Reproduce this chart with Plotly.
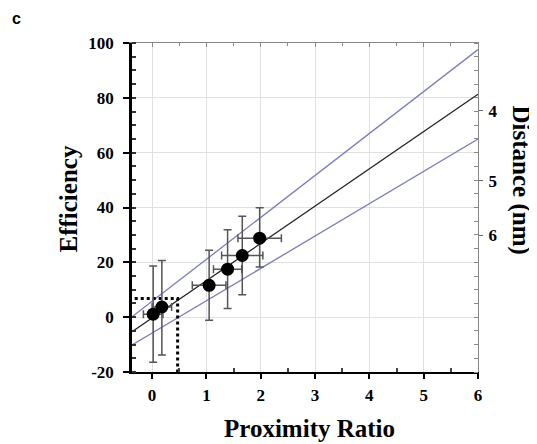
import plotly.graph_objects as go

# Data
proximity_ratio = [0.02, 0.18, 1.05, 1.39, 1.66, 1.98]
efficiency = [1.1, 3.7, 11.6, 17.5, 22.5, 28.8]
pr_err = [0.18, 0.18, 0.31, 0.26, 0.38, 0.40]
eff_err_plus = [17.6, 17.0, 12.8, 14.4, 14.3, 11.1]
eff_err_minus = [17.5, 17.5, 12.7, 14.3, 14.3, 10.5]

fit_slope, fit_intercept = 13.6, -0.3
upper_slope, upper_intercept = 15.3, 5.8
lower_slope, lower_intercept = 11.8, -5.8

x_range = [-0.37, 6.0]
y_range = [-20, 100]

cut_eff = 6.8
cut_pr = 0.47

distance_labels = ["4", "5", "6"]
distance_eff_pos = [75.3, 49.8, 29.8]

x_ticks = [0, 1, 2, 3, 4, 5, 6]
x_tick_labels = ["0", "1", "2", "3", "4", "5", "6"]
y_ticks = [-20, 0, 20, 40, 60, 80, 100]
y_tick_labels = ["-20", "0", "20", "40", "60", "80", "100"]

serif = "Liberation Serif, Times New Roman, serif"
blue = "#7b7bbd"

fig = go.Figure()

line_x = [x_range[0], x_range[1]]
for s, b, c, w in [(upper_slope, upper_intercept, blue, 1.3),
                   (lower_slope, lower_intercept, blue, 1.3),
                   (fit_slope, fit_intercept, "#222222", 1.3)]:
    fig.add_trace(go.Scatter(x=line_x, y=[s * v + b for v in line_x], mode="lines",
                             line=dict(color=c, width=w), showlegend=False, hoverinfo="skip"))

# dotted guide lines
fig.add_trace(go.Scatter(x=[x_range[0] + 0.05, cut_pr, cut_pr], y=[cut_eff, cut_eff, y_range[0]],
                         mode="lines", line=dict(color="black", width=3, dash="dot"),
                         showlegend=False, hoverinfo="skip"))

fig.add_trace(go.Scatter(
    x=proximity_ratio, y=efficiency, mode="markers",
    marker=dict(color="black", size=13),
    error_y=dict(type="data", symmetric=False, array=eff_err_plus, arrayminus=eff_err_minus,
                 color="#555555", thickness=1.5, width=4),
    error_x=dict(type="data", array=pr_err, color="#555555", thickness=1.5, width=4),
    showlegend=False))

# invisible trace to enable secondary axes
fig.add_trace(go.Scatter(x=line_x, y=[None, None], xaxis="x2", yaxis="y2", showlegend=False, hoverinfo="skip"))

tickfont = dict(family=serif, size=17, color="black", weight="bold")
titlefont = dict(family=serif, size=25, color="black", weight="bold")

# page body has an 8px margin, so the figure is drawn 8px in from the window edge
fig.update_layout(
    width=529, height=436,
    margin=dict(l=124, r=59, t=35, b=72, autoexpand=False),
    plot_bgcolor="white", paper_bgcolor="white",
    xaxis=dict(range=x_range, tickvals=x_ticks, ticktext=x_tick_labels, automargin=False,
               showgrid=True, gridcolor="#e0e0e0", gridwidth=1,
               zeroline=False, showline=True, linecolor="black", linewidth=2,
               ticks="outside", ticklen=5, tickwidth=1.5, tickcolor="black",
               minor=dict(tickmode="linear", tick0=0.5, dtick=1, ticks="inside", ticklen=4, tickcolor="#444", showgrid=False),
               tickfont=tickfont, ticklabelstandoff=2),
    yaxis=dict(range=y_range, tickvals=y_ticks, ticktext=y_tick_labels, automargin=False,
               showgrid=True, gridcolor="#e0e0e0", gridwidth=1,
               zeroline=False, showline=True, linecolor="black", linewidth=2.5,
               ticks="outside", ticklen=6, tickwidth=2, tickcolor="black",
               minor=dict(tickmode="linear", tick0=0, dtick=5, ticks="inside", ticklen=4, tickwidth=1.5, tickcolor="#333", showgrid=False),
               tickfont=tickfont, ticklabelstandoff=6),
    xaxis2=dict(range=x_range, overlaying="x", side="top", anchor="y", showgrid=False, zeroline=False,
                showline=True, linecolor="#888888", linewidth=1, showticklabels=False, automargin=False,
                tickvals=x_ticks, ticks="inside", ticklen=4, tickcolor="#888",
                minor=dict(tickmode="linear", tick0=0.5, dtick=1, ticks="inside", ticklen=3, tickcolor="#888")),
    yaxis2=dict(range=y_range, overlaying="y", side="right", anchor="x", showgrid=False, zeroline=False,
                showline=True, linecolor="#888888", linewidth=1, automargin=False,
                tickvals=distance_eff_pos, ticktext=distance_labels,
                ticks="outside", ticklen=4, tickcolor="#666", tickfont=tickfont, ticklabelstandoff=2,
                minor=dict(tickmode="linear", tick0=0, dtick=5, ticks="inside", ticklen=4, tickcolor="#888")),
)

# axis titles as annotations, centred at offsets from the plot area edges
fig.add_annotation(text="Efficiency", xref="paper", yref="paper", x=0, y=0.5,
                   xanchor="center", yanchor="middle", xshift=-64, yshift=8,
                   textangle=-90, showarrow=False, font=titlefont)
fig.add_annotation(text="Proximity Ratio", xref="paper", yref="paper", x=0.5, y=0,
                   xanchor="center", yanchor="middle", yshift=-56, xshift=4,
                   showarrow=False, font=titlefont)
fig.add_annotation(text="Distance (nm)", xref="paper", yref="paper", x=1.0, y=0.5,
                   xanchor="center", yanchor="middle", xshift=43, yshift=28,
                   textangle=90, showarrow=False, font=titlefont)
fig.add_annotation(text="c", xref="paper", yref="paper", x=0, y=1, xshift=-122, yshift=35,
                   xanchor="left", showarrow=False,
                   font=dict(family="Liberation Sans, Arial, sans-serif", size=16, color="black", weight="bold"))

fig.write_html("out.html")
